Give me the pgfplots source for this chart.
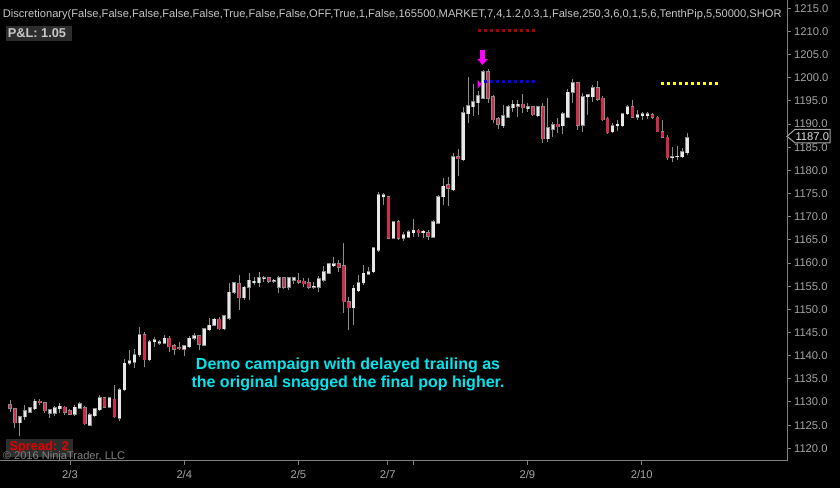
\documentclass[border=0pt]{standalone}
\usepackage{pgfplots}
\pgfplotsset{compat=1.18}
\usepackage{pgfplotstable}
\usepackage{fontspec}
\setmainfont{Liberation Sans}
\usetikzlibrary{arrows.meta}

\definecolor{wickc}{RGB}{140,140,140}
\definecolor{edgec}{RGB}{140,140,140}
\definecolor{upc}{RGB}{232,232,232}
\definecolor{dnc}{RGB}{205,45,75}
\definecolor{axc}{RGB}{128,128,128}
\definecolor{lblc}{RGB}{165,165,165}
\definecolor{topc}{RGB}{200,200,200}
\definecolor{plbg}{RGB}{45,45,45}
\definecolor{plc}{RGB}{200,200,200}
\definecolor{spc}{RGB}{230,0,0}
\definecolor{copyc}{RGB}{130,130,130}
\definecolor{cyanc}{RGB}{0,230,240}
\definecolor{dkred}{RGB}{170,0,0}
\definecolor{bluec}{RGB}{0,0,255}
\definecolor{yelc}{RGB}{255,255,0}
\definecolor{magc}{RGB}{255,0,255}

\pgfplotstableread{
i O H L C
0 1129.4 1130.4 1127.8 1128.7
1 1128.5 1128.7 1124.4 1125.5
2 1125.5 1127.0 1122.7 1126.8
3 1126.8 1129.4 1126.1 1128.1
4 1127.8 1128.9 1127.6 1128.7
5 1128.5 1130.7 1128.3 1130.2
6 1130.2 1130.7 1129.4 1129.8
7 1129.8 1130.0 1127.6 1128.1
8 1127.6 1128.5 1126.5 1128.3
9 1127.6 1129.1 1127.0 1128.7
10 1128.5 1129.8 1127.6 1129.1
11 1128.9 1129.1 1127.2 1127.8
12 1128.1 1128.5 1127.2 1127.4
13 1127.4 1129.4 1127.0 1128.9
14 1128.7 1130.0 1128.6 1129.6
15 1128.7 1129.1 1125.0 1125.3
16 1125.0 1127.6 1124.8 1127.2
17 1127.0 1128.7 1126.8 1128.5
18 1128.3 1131.5 1128.1 1130.9
19 1130.9 1131.1 1128.7 1128.9
20 1128.9 1131.1 1128.7 1130.9
21 1130.6 1133.7 1126.5 1126.8
22 1126.5 1133.0 1125.9 1132.6
23 1132.6 1139.3 1132.4 1138.4
24 1138.4 1141.2 1138.0 1138.9
25 1138.6 1141.4 1137.3 1140.2
26 1140.2 1146.2 1139.7 1144.5
27 1144.5 1145.1 1137.6 1139.1
28 1139.1 1143.4 1138.9 1143.0
29 1143.0 1144.0 1141.9 1143.4
30 1142.7 1143.4 1142.3 1143.0
31 1142.7 1144.5 1142.5 1143.8
32 1143.8 1144.3 1140.8 1141.9
33 1142.1 1142.5 1140.2 1141.4
34 1141.7 1143.0 1141.2 1141.5
35 1141.4 1142.3 1139.9 1142.1
36 1141.9 1144.3 1141.7 1143.8
37 1143.8 1144.9 1143.4 1144.3
38 1144.3 1144.5 1141.2 1142.5
39 1142.3 1146.0 1142.1 1145.8
40 1145.6 1148.1 1145.3 1146.6
41 1146.6 1148.1 1146.4 1147.9
42 1147.9 1148.4 1145.6 1145.8
43 1145.8 1148.8 1145.6 1148.6
44 1148.1 1155.7 1147.7 1153.7
45 1153.7 1155.9 1153.3 1155.7
46 1155.5 1157.4 1149.9 1152.5
47 1152.5 1155.0 1152.0 1154.8
48 1154.8 1157.8 1152.0 1156.3
49 1155.7 1157.0 1155.3 1156.1
50 1155.7 1158.1 1154.8 1156.8
51 1156.6 1157.2 1155.9 1156.8
52 1156.8 1157.0 1155.7 1156.1
53 1156.1 1156.6 1155.7 1156.3
54 1154.8 1157.2 1153.5 1156.8
55 1156.8 1157.0 1154.4 1154.8
56 1154.8 1157.0 1154.2 1156.8
57 1156.3 1157.0 1155.5 1156.8
58 1156.3 1157.8 1155.5 1155.9
59 1156.1 1156.8 1154.8 1155.5
60 1155.7 1156.8 1154.4 1154.8
61 1154.8 1155.9 1154.4 1155.0
62 1154.8 1157.2 1153.7 1156.6
63 1156.3 1159.4 1155.9 1158.1
64 1157.8 1160.0 1157.6 1159.8
65 1159.4 1161.3 1159.1 1159.8
66 1159.8 1160.7 1158.1 1159.1
67 1159.4 1164.3 1149.2 1151.6
68 1151.6 1152.7 1145.6 1150.3
69 1150.3 1155.3 1146.6 1154.6
70 1154.0 1157.4 1153.7 1155.7
71 1155.7 1159.6 1155.3 1157.8
72 1157.6 1159.1 1157.4 1158.1
73 1158.1 1163.5 1157.8 1163.3
74 1162.8 1175.3 1162.4 1174.7
75 1174.3 1175.1 1172.5 1174.7
76 1174.3 1174.5 1165.2 1165.4
77 1165.4 1169.1 1165.2 1168.9
78 1168.9 1169.3 1165.0 1165.4
79 1165.4 1166.7 1164.8 1166.1
80 1165.6 1167.1 1165.4 1166.7
81 1166.5 1169.5 1165.6 1167.1
82 1167.1 1167.4 1165.6 1166.5
83 1166.5 1167.1 1165.4 1166.9
84 1166.5 1167.1 1165.0 1165.8
85 1165.6 1169.3 1165.4 1168.9
86 1168.6 1174.7 1168.4 1174.3
87 1174.3 1178.4 1172.5 1176.6
88 1176.9 1178.6 1172.3 1176.2
89 1175.8 1183.8 1175.6 1182.9
90 1182.9 1184.6 1178.8 1182.5
91 1182.3 1193.7 1182.0 1192.4
92 1192.2 1200.2 1190.2 1193.9
93 1193.7 1198.7 1191.8 1194.8
94 1194.6 1197.1 1192.0 1196.1
95 1195.6 1201.7 1195.4 1201.3
96 1201.3 1201.9 1194.6 1195.6
97 1195.9 1196.3 1190.2 1190.9
98 1191.1 1191.5 1188.9 1190.0
99 1189.6 1194.1 1189.2 1191.8
100 1191.5 1194.1 1191.3 1193.7
101 1193.5 1195.2 1192.6 1194.3
102 1193.9 1195.2 1191.5 1194.3
103 1194.3 1196.5 1192.4 1193.5
104 1193.3 1194.6 1192.6 1193.7
105 1193.7 1193.9 1191.8 1192.0
106 1191.8 1193.9 1191.5 1193.7
107 1193.7 1194.6 1185.9 1186.8
108 1186.8 1195.6 1186.1 1189.2
109 1188.9 1190.5 1187.2 1189.8
110 1190.0 1191.3 1188.1 1189.4
111 1189.6 1192.6 1187.9 1192.2
112 1191.5 1197.6 1191.3 1196.9
113 1196.9 1199.7 1194.6 1198.9
114 1198.9 1199.1 1188.7 1189.8
115 1189.8 1196.7 1188.3 1195.9
116 1195.9 1196.5 1192.0 1196.3
117 1195.9 1198.4 1194.8 1197.8
118 1197.8 1199.3 1195.0 1195.4
119 1195.6 1196.1 1190.7 1190.9
120 1191.3 1191.5 1187.9 1188.1
121 1188.3 1190.2 1188.1 1189.6
122 1189.6 1190.9 1188.5 1190.0
123 1189.6 1192.4 1189.4 1192.2
124 1192.2 1194.1 1192.0 1193.7
125 1193.7 1195.2 1191.3 1191.5
126 1191.5 1193.0 1190.9 1192.0
127 1191.8 1192.6 1190.9 1192.2
128 1191.8 1192.6 1191.1 1192.2
129 1192.0 1192.4 1191.1 1191.5
130 1191.5 1191.8 1188.2 1188.3
131 1188.3 1190.9 1187.0 1187.2
132 1187.2 1187.7 1182.3 1182.7
133 1182.7 1185.1 1181.8 1182.9
134 1182.9 1185.3 1182.3 1183.1
135 1182.9 1184.8 1182.7 1184.0
136 1183.8 1188.1 1183.3 1187.0
}\candles

\begin{document}
\begin{tikzpicture}
\fill[black] (0,0) rectangle (630pt,366pt);
\useasboundingbox (0,0) rectangle (630pt,366pt);
\begin{axis}[
  scale only axis, width=590.25pt, height=345.75pt,
  at={(0pt,20.25pt)}, anchor=south west,
  xmin=-2.008, xmax=156.02, ymin=1117.26, ymax=1216.79,
  clip=false,
  axis x line*=bottom, axis y line*=right,
  axis line style={draw=axc, line width=0.75pt},
  tick style={draw=axc, line width=0.75pt},
  tick align=outside, major tick length=3pt,
  xtick={12.05,35,57.9,75.85,81,103.9,126.85},
  xticklabels={2/3,2/4,2/5,2/7,,2/9,2/10},
  ytick={1120,1125,...,1215},
  ticklabel style={font=\fontsize{8.4}{10}\selectfont, text=lblc},
  yticklabel style={anchor=west, xshift=-1.2pt,
    /pgf/number format/fixed, /pgf/number format/fixed zerofill,
    /pgf/number format/precision=1, /pgf/number format/1000 sep={}},
  xticklabel style={anchor=base, yshift=-10.2pt},
  /pgf/number format/assume math mode=true,
]
% wicks
\addplot[draw=none, mark=none, error bars/.cd, y dir=plus, y explicit, error mark=none,
  error bar style={draw=wickc, line width=0.75pt}]
  table[x=i, y=L, y error plus expr=\thisrow{H}-\thisrow{L}] {\candles};
% up bodies
\addplot[draw=none, mark=none, restrict expr to domain={\thisrow{C}-\thisrow{O}}{-0.001:1000},
  error bars/.cd, y dir=plus, y explicit, error mark=none,
  error bar style={draw=edgec, line width=2.8pt}]
  table[x=i, y expr=\thisrow{O}-0.115, y error plus expr=\thisrow{C}-\thisrow{O}+0.23] {\candles};
\addplot[draw=none, mark=none, restrict expr to domain={\thisrow{C}-\thisrow{O}}{-0.001:1000},
  error bars/.cd, y dir=plus, y explicit, error mark=none,
  error bar style={draw=upc, line width=2.0pt}]
  table[x=i, y=O, y error plus expr=\thisrow{C}-\thisrow{O}] {\candles};
% down bodies
\addplot[draw=none, mark=none, restrict expr to domain={\thisrow{O}-\thisrow{C}}{0.001:1000},
  error bars/.cd, y dir=plus, y explicit, error mark=none,
  error bar style={draw=edgec, line width=2.8pt}]
  table[x=i, y expr=\thisrow{C}-0.115, y error plus expr=\thisrow{O}-\thisrow{C}+0.23] {\candles};
\addplot[draw=none, mark=none, restrict expr to domain={\thisrow{O}-\thisrow{C}}{0.001:1000},
  error bars/.cd, y dir=plus, y explicit, error mark=none,
  error bar style={draw=dnc, line width=2.0pt}]
  table[x=i, y=C, y error plus expr=\thisrow{O}-\thisrow{C}] {\candles};
% dotted levels
\addplot[draw=dkred, line width=2.25pt, dash pattern=on 2.25pt off 2.25pt] coordinates {(93.88,1210.3) (105.32,1210.3)};
\addplot[draw=bluec, line width=2.25pt, dash pattern=on 2.25pt off 2.25pt] coordinates {(95.08,1199.3) (105.32,1199.3)};
\addplot[draw=yelc, line width=2.25pt, dash pattern=on 2.25pt off 2.25pt] coordinates {(130.68,1198.66) (142.13,1198.66)};
% entry markers
\addplot[fill=magc, draw=none] coordinates {(93.9,1199.5) (94.7,1198.6) (93.9,1197.7)} -- cycle;
\addplot[draw=magc, line width=3.5pt, -{Triangle[width=7.2pt,length=4.3pt]}] coordinates {(94.88,1206.0) (94.88,1202.76)};
% last price box
\addplot[draw=lblc, fill=black, line width=0.75pt] coordinates {(156.02,1187.35) (157.63,1188.85) (164.66,1188.85) (164.66,1185.95) (157.63,1185.95)} -- cycle;
\node[inner sep=0pt, text=white!88!black, font=\fontsize{8.4}{10}\selectfont] at (axis cs:161.1,1187.35) {1187.0};
\end{axis}
\begin{scope}[x=0.75pt, y=-0.75pt, shift={(0pt,366pt)}]
  \node[anchor=base west, inner sep=0pt, text=topc, font=\fontsize{8.35}{10}\selectfont] at (2.5,17.3)
    {Discretionary(False,False,False,False,False,True,False,False,OFF,True,1,False,165500,MARKET,7,4,1.2,0.3,1,False,250,3,6,0,1,5,6,TenthPip,5,50000,SHOR};
  \fill[plbg] (6,26) rectangle (71.7,40.7);
  \node[anchor=base west, inner sep=0pt, text=plc, font=\bfseries\fontsize{9.6}{11}\selectfont] at (7.5,37.3) {P\&L: 1.05};
  \fill[plbg] (6,439.3) rectangle (72.7,457);
  \node[anchor=base west, inner sep=0pt, text=spc, font=\bfseries\fontsize{9.6}{11}\selectfont] at (9.3,451) {Spread: 2};
  \node[anchor=base west, inner sep=0pt, text=copyc, font=\fontsize{8.3}{10}\selectfont] at (2.7,459.3) {© 2016 NinjaTrader, LLC};
  \node[anchor=base, inner sep=0pt, text=cyanc, font=\bfseries\fontsize{12}{14}\selectfont] at (348,370) {Demo campaign with delayed trailing as};
  \node[anchor=base, inner sep=0pt, text=cyanc, font=\bfseries\fontsize{12}{14}\selectfont] at (348,387.3) {the original snagged the final pop higher.};
\end{scope}
\end{tikzpicture}
\end{document}
